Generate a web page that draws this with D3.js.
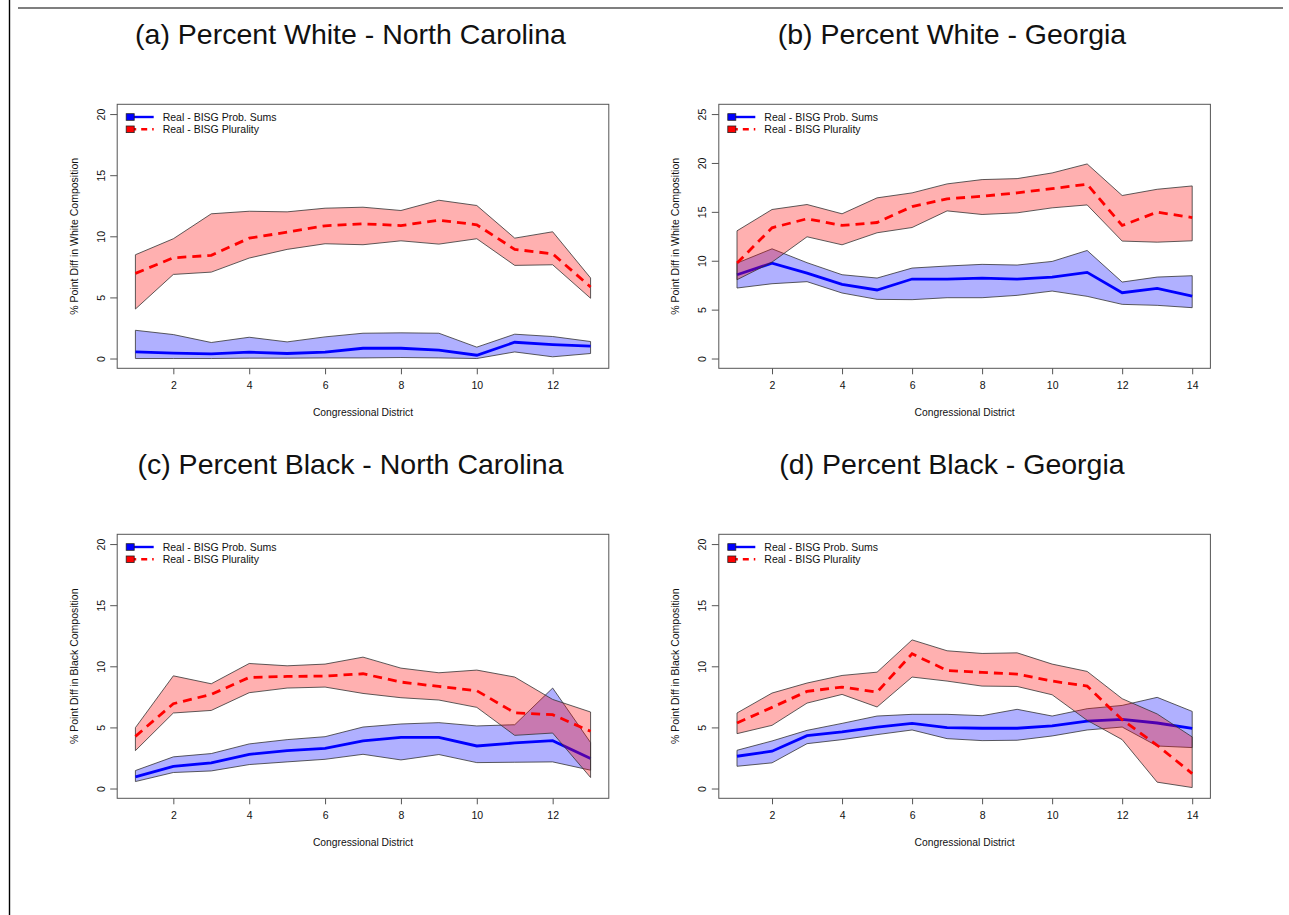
<!DOCTYPE html>
<html>
<head>
<meta charset="utf-8">
<script src="https://cdn.jsdelivr.net/npm/d3@7"></script>
<style>
  html, body { margin: 0; padding: 0; background: #fff; }
  svg { display: block; font-family: "Liberation Sans", Arial, Helvetica, sans-serif; }
</style>
</head>
<body>
<svg id="fig" width="1289" height="915"></svg>
<script>
// Congressional districts
const ncDistricts = d3.range(1, 14);
const gaDistricts = d3.range(1, 15);

// (a) Percent White - North Carolina
const ncWhitePluHi  = [8.49, 9.80, 11.84, 12.05, 12.00, 12.30, 12.38, 12.11, 12.95, 12.52, 9.85, 10.37, 6.59];
const ncWhitePluMid = [6.97, 8.24, 8.44, 9.85, 10.34, 10.86, 11.02, 10.88, 11.32, 10.94, 8.93, 8.57, 5.85];
const ncWhitePluLo  = [4.05, 6.88, 7.07, 8.22, 8.93, 9.39, 9.31, 9.63, 9.36, 9.80, 7.62, 7.67, 4.93];
const ncWhiteProbHi  = [2.31, 1.96, 1.31, 1.74, 1.36, 1.77, 2.07, 2.10, 2.07, 0.93, 1.99, 1.80, 1.39];
const ncWhiteProbMid = [0.54, 0.44, 0.38, 0.52, 0.41, 0.52, 0.84, 0.84, 0.68, 0.27, 1.33, 1.14, 1.01];
const ncWhiteProbLo  = [0.00, 0.00, 0.00, 0.03, 0.03, 0.05, 0.05, 0.08, 0.05, 0.00, 0.54, 0.14, 0.41];

// (b) Percent White - Georgia
const gaWhitePluHi  = [13.06, 15.24, 15.75, 14.80, 16.43, 16.94, 17.86, 18.30, 18.40, 18.98, 19.90, 16.67, 17.31, 17.65];
const gaWhitePluMid = [9.76, 13.37, 14.29, 13.61, 13.91, 15.54, 16.33, 16.60, 16.94, 17.38, 17.82, 13.61, 14.97, 14.42];
const gaWhitePluLo  = [8.06, 9.86, 12.45, 11.63, 12.86, 13.40, 15.10, 14.73, 14.90, 15.41, 15.71, 12.01, 11.90, 12.04];
const gaWhiteProbHi  = [9.76, 11.22, 9.80, 8.57, 8.23, 9.25, 9.46, 9.63, 9.56, 9.93, 11.05, 7.82, 8.33, 8.47];
const gaWhiteProbMid = [8.57, 9.76, 8.74, 7.59, 7.01, 8.13, 8.13, 8.23, 8.13, 8.33, 8.81, 6.73, 7.18, 6.39];
const gaWhiteProbLo  = [7.21, 7.65, 7.86, 6.70, 6.05, 6.02, 6.22, 6.22, 6.46, 6.90, 6.36, 5.54, 5.44, 5.20];

// (c) Percent Black - North Carolina
const ncBlackPluHi  = [4.98, 9.22, 8.57, 10.23, 10.04, 10.18, 10.75, 9.85, 9.47, 9.69, 9.12, 7.29, 6.26];
const ncBlackPluMid = [4.27, 6.94, 7.70, 9.09, 9.17, 9.20, 9.39, 8.71, 8.35, 8.00, 6.20, 6.04, 4.68];
const ncBlackPluLo  = [3.10, 6.18, 6.39, 7.84, 8.22, 8.30, 7.78, 7.43, 7.24, 6.64, 4.35, 4.54, 0.90];
const ncBlackProbHi  = [1.47, 2.59, 2.86, 3.65, 4.00, 4.24, 5.03, 5.28, 5.39, 5.12, 5.22, 8.22, 3.76];
const ncBlackProbMid = [0.95, 1.82, 2.10, 2.80, 3.10, 3.29, 3.89, 4.19, 4.19, 3.48, 3.73, 3.92, 2.45];
const ncBlackProbLo  = [0.57, 1.31, 1.44, 1.96, 2.18, 2.39, 2.80, 2.34, 2.78, 2.12, 2.15, 2.18, 1.50];

// (d) Percent Black - Georgia
const gaBlackPluHi  = [6.18, 7.81, 8.63, 9.25, 9.52, 12.16, 11.27, 11.05, 11.10, 10.18, 9.58, 7.35, 6.10, 4.22];
const gaBlackPluMid = [5.36, 6.64, 7.95, 8.30, 7.89, 11.02, 9.66, 9.50, 9.36, 8.79, 8.38, 5.63, 3.54, 1.22];
const gaBlackPluLo  = [4.49, 5.17, 6.99, 7.70, 6.67, 9.12, 8.79, 8.38, 8.35, 7.67, 5.58, 4.00, 0.52, 0.08];
const gaBlackProbHi  = [3.13, 3.89, 4.76, 5.33, 5.93, 6.07, 6.07, 5.96, 6.48, 5.93, 6.53, 6.80, 7.46, 6.31];
const gaBlackProbMid = [2.64, 3.05, 4.33, 4.63, 5.03, 5.33, 4.98, 4.93, 4.93, 5.12, 5.52, 5.66, 5.36, 4.93];
const gaBlackProbLo  = [1.82, 2.10, 3.67, 4.00, 4.41, 4.79, 4.08, 3.92, 3.95, 4.30, 4.79, 5.03, 3.48, 3.35];

// Axis ticks
const ncXTicks = [2, 4, 6, 8, 10, 12];
const gaXTicks = [2, 4, 6, 8, 10, 12, 14];
const yTicks20 = [0, 5, 10, 15, 20];
const yTicks25 = [0, 5, 10, 15, 20, 25];

const legendLabels = ["Real - BISG Prob. Sums", "Real - BISG Plurality"];

const panels = [
  { title: "(a) Percent White - North Carolina", ylab: "% Point Diff in White Composition",
    x: ncDistricts, xTicks: ncXTicks, yMax: 20, yTicks: yTicks20,
    pHi: ncWhiteProbHi, pMid: ncWhiteProbMid, pLo: ncWhiteProbLo,
    qHi: ncWhitePluHi, qMid: ncWhitePluMid, qLo: ncWhitePluLo, col: 0, row: 0 },
  { title: "(b) Percent White - Georgia", ylab: "% Point Diff in White Composition",
    x: gaDistricts, xTicks: gaXTicks, yMax: 25, yTicks: yTicks25,
    pHi: gaWhiteProbHi, pMid: gaWhiteProbMid, pLo: gaWhiteProbLo,
    qHi: gaWhitePluHi, qMid: gaWhitePluMid, qLo: gaWhitePluLo, col: 1, row: 0 },
  { title: "(c) Percent Black - North Carolina", ylab: "% Point Diff in Black Composition",
    x: ncDistricts, xTicks: ncXTicks, yMax: 20, yTicks: yTicks20,
    pHi: ncBlackProbHi, pMid: ncBlackProbMid, pLo: ncBlackProbLo,
    qHi: ncBlackPluHi, qMid: ncBlackPluMid, qLo: ncBlackPluLo, col: 0, row: 1 },
  { title: "(d) Percent Black - Georgia", ylab: "% Point Diff in Black Composition",
    x: gaDistricts, xTicks: gaXTicks, yMax: 20, yTicks: yTicks20,
    pHi: gaBlackProbHi, pMid: gaBlackProbMid, pLo: gaBlackProbLo,
    qHi: gaBlackPluHi, qMid: gaBlackPluMid, qLo: gaBlackPluLo, col: 1, row: 1 }
];

const svg = d3.select("#fig");

// page rules
svg.append("line").attr("x1", 9.5).attr("x2", 9.5).attr("y1", 0).attr("y2", 915)
  .attr("stroke", "#000").attr("stroke-width", 1.4);
svg.append("line").attr("x1", 18).attr("x2", 1283).attr("y1", 8).attr("y2", 8)
  .attr("stroke", "#000").attr("stroke-width", 1.2);

const boxW = 491.6, boxH = 264;
const colLeft = [117.2, 718.8];
const rowTop = [104.3, 534.3];
const titleX = [350.5, 952];
const titleY = [44, 474];

const blueFill = "rgba(0,0,255,0.31)";
const redFill = "rgba(255,0,0,0.31)";
const bandStroke = "#333";

panels.forEach(p => {
  const left = colLeft[p.col], top = rowTop[p.row];
  const n = p.x.length;
  const xPad = (n - 1) * 0.04, yPad = p.yMax * 0.04;
  const xs = d3.scaleLinear().domain([1 - xPad, n + xPad]).range([0, boxW]);
  const ys = d3.scaleLinear().domain([-yPad, p.yMax + yPad]).range([boxH, 0]);

  svg.append("text").attr("x", titleX[p.col]).attr("y", titleY[p.row])
    .attr("text-anchor", "middle").attr("font-size", 28.5).attr("fill", "#111").text(p.title);

  const g = svg.append("g").attr("transform", `translate(${left},${top})`);

  const band = (lo, hi) => d3.area()
    .x((d, i) => xs(p.x[i])).y0((d, i) => ys(lo[i])).y1((d, i) => ys(hi[i]))(p.x);
  const line = (v) => d3.line().x((d, i) => xs(p.x[i])).y((d, i) => ys(v[i]))(p.x);

  // probability-sum band and line
  g.append("path").attr("d", band(p.pLo, p.pHi)).attr("fill", blueFill)
    .attr("stroke", bandStroke).attr("stroke-width", 0.8);
  g.append("path").attr("d", line(p.pMid)).attr("fill", "none")
    .attr("stroke", "#0000ff").attr("stroke-width", 2.8);

  // plurality band and dashed line
  g.append("path").attr("d", band(p.qLo, p.qHi)).attr("fill", redFill)
    .attr("stroke", bandStroke).attr("stroke-width", 0.8);
  g.append("path").attr("d", line(p.qMid)).attr("fill", "none")
    .attr("stroke", "#ff0000").attr("stroke-width", 2.8).attr("stroke-dasharray", "9,6");

  // frame
  g.append("rect").attr("x", 0).attr("y", 0).attr("width", boxW).attr("height", boxH)
    .attr("fill", "none").attr("stroke", "#555").attr("stroke-width", 1);

  // x axis
  const xa = g.append("g").attr("transform", `translate(0,${boxH})`)
    .call(d3.axisBottom(xs).tickValues(p.xTicks).tickSize(6).tickPadding(7).tickFormat(d3.format("d")));
  xa.select(".domain").remove();
  xa.selectAll("line").attr("stroke", "#555");
  xa.selectAll("text").attr("font-size", 10.5).attr("fill", "#111").attr("font-family", null);

  // y axis with upright-rotated labels
  const ya = g.append("g")
    .call(d3.axisLeft(ys).tickValues(p.yTicks).tickSize(7).tickFormat(d3.format("d")));
  ya.select(".domain").remove();
  ya.selectAll("line").attr("stroke", "#555");
  ya.selectAll("text").attr("font-size", 10.5).attr("fill", "#111").attr("font-family", null)
    .attr("x", null).attr("dy", null)
    .attr("text-anchor", "middle")
    .attr("transform", "translate(-16.5,0) rotate(-90)")
    .attr("dominant-baseline", "central");

  // axis titles
  g.append("text").attr("x", boxW / 2).attr("y", 412.7 - 104.3).attr("dy", "0.35em")
    .attr("text-anchor", "middle").attr("font-size", 10.3).attr("fill", "#111")
    .text("Congressional District");
  g.append("text").attr("transform", `translate(${73.6 - 117.2},${boxH / 2}) rotate(-90)`)
    .attr("text-anchor", "middle").attr("dominant-baseline", "central")
    .attr("font-size", 10.5).attr("fill", "#111").text(p.ylab);

  // legend
  const lg = g.append("g");
  const legendCols = ["#0000ff", "#ff0000"];
  const legendDash = [null, "6,5"];
  legendLabels.forEach((lab, i) => {
    const yy = 12.7 + i * 12.3;
    lg.append("line").attr("x1", 13).attr("x2", 36.5).attr("y1", yy).attr("y2", yy)
      .attr("stroke", legendCols[i]).attr("stroke-width", 2.4)
      .attr("stroke-dasharray", legendDash[i]);
    lg.append("rect").attr("x", 9).attr("y", yy - 3.3).attr("width", 8).attr("height", 6.6)
      .attr("fill", legendCols[i]).attr("stroke", "#222").attr("stroke-width", 0.8);
    lg.append("text").attr("x", 45.5).attr("y", yy).attr("dominant-baseline", "central")
      .attr("font-size", 10.5).attr("fill", "#111").text(lab);
  });
});
</script>
</body>
</html>
